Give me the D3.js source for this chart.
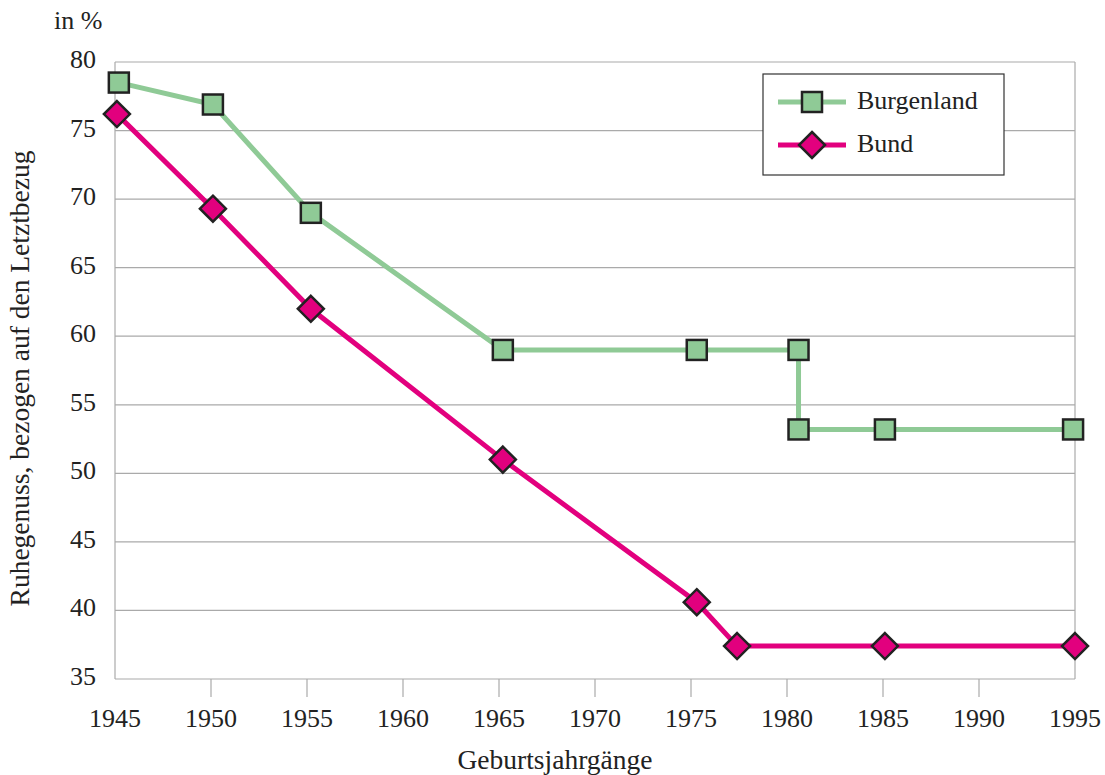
<!DOCTYPE html>
<html>
<head>
<meta charset="utf-8">
<script src="https://cdn.jsdelivr.net/npm/d3@7"></script>
<style>
  body { margin: 0; background: #fff; }
  text { font-family: "Liberation Serif", "DejaVu Serif", serif; fill: #222; }
</style>
</head>
<body>
<div id="chart"></div>
<script>
// Data
const burgenlandYears = [1945.2, 1950.1, 1955.2, 1965.2, 1975.3, 1980.6, 1980.6, 1985.1, 1994.9]
const burgenlandValues = [78.5, 76.9, 69.0, 59.0, 59.0, 59.0, 53.2, 53.2, 53.2]
const bundYears = [1945.1, 1950.1, 1955.2, 1965.2, 1975.3, 1977.4, 1985.1, 1995]
const bundValues = [76.2, 69.3, 62.0, 51.0, 40.6, 37.4, 37.4, 37.4]
const xTicks = [1945, 1950, 1955, 1960, 1965, 1970, 1975, 1980, 1985, 1990, 1995]
const yTicks = [35, 40, 45, 50, 55, 60, 65, 70, 75, 80]

const width = 1105
const height = 775
const margin = { top: 62, right: 30, bottom: 96, left: 115 }
const fontSize = '26px'
const titleSize = '27.5px'

const svg = d3.select('#chart').append('svg').attr('width', width).attr('height', height)

const x = d3.scaleLinear().domain([1945, 1995]).range([margin.left, width - margin.right])
const y = d3.scaleLinear().domain([35, 80]).range([height - margin.bottom, margin.top])

const green = '#8fca96'
const pink = '#e2007e'
const gridColor = '#aaaaaa'

// Horizontal gridlines
svg.append('g')
  .selectAll('line')
  .data(yTicks)
  .join('line')
  .attr('x1', x(1945))
  .attr('x2', x(1995))
  .attr('y1', d => y(d))
  .attr('y2', d => y(d))
  .attr('stroke', gridColor)
  .attr('stroke-width', 1.2)

// Left and right frame lines
svg.append('line')
  .attr('x1', x(1945)).attr('x2', x(1945))
  .attr('y1', y(80)).attr('y2', y(35))
  .attr('stroke', gridColor).attr('stroke-width', 1.2)
svg.append('line')
  .attr('x1', x(1995)).attr('x2', x(1995))
  .attr('y1', y(80)).attr('y2', y(35))
  .attr('stroke', gridColor).attr('stroke-width', 1.2)

// X ticks (inner ones only) and labels
svg.append('g')
  .selectAll('line')
  .data(xTicks.slice(1, -1))
  .join('line')
  .attr('x1', d => x(d))
  .attr('x2', d => x(d))
  .attr('y1', y(35))
  .attr('y2', y(35) + 18)
  .attr('stroke', gridColor)
  .attr('stroke-width', 1.2)

svg.append('g')
  .selectAll('text')
  .data(xTicks)
  .join('text')
  .attr('x', d => x(d))
  .attr('y', y(35) + 48)
  .attr('text-anchor', 'middle')
  .attr('font-size', fontSize)
  .text(d => d)

// Y labels
svg.append('g')
  .selectAll('text')
  .data(yTicks)
  .join('text')
  .attr('x', 96)
  .attr('y', d => y(d) + 6)
  .attr('text-anchor', 'end')
  .attr('font-size', fontSize)
  .text(d => d)

// Axis titles
svg.append('text')
  .attr('x', 54)
  .attr('y', 29)
  .attr('font-size', fontSize)
  .text('in %')

svg.append('text')
  .attr('transform', `translate(29, ${(y(35) + y(80)) / 2 + 8}) rotate(-90)`)
  .attr('text-anchor', 'middle')
  .attr('font-size', titleSize)
  .text('Ruhegenuss, bezogen auf den Letztbezug')

svg.append('text')
  .attr('x', 555)
  .attr('y', 769)
  .attr('text-anchor', 'middle')
  .attr('font-size', titleSize)
  .text('Geburtsjahrgänge')

// Lines
const line = d3.line().x(d => x(d[0])).y(d => y(d[1]))
const burgenland = burgenlandYears.map((d, i) => [d, burgenlandValues[i]])
const bund = bundYears.map((d, i) => [d, bundValues[i]])

svg.append('path')
  .datum(burgenland)
  .attr('d', line)
  .attr('fill', 'none')
  .attr('stroke', green)
  .attr('stroke-width', 5)

svg.append('path')
  .datum(bund)
  .attr('d', line)
  .attr('fill', 'none')
  .attr('stroke', pink)
  .attr('stroke-width', 5)

const sq = 20
const dia = 13

function square(g, cx, cy) {
  g.append('rect')
    .attr('x', cx - sq / 2)
    .attr('y', cy - sq / 2)
    .attr('width', sq)
    .attr('height', sq)
    .attr('fill', green)
    .attr('stroke', '#222')
    .attr('stroke-width', 2.5)
}

function diamond(g, cx, cy) {
  g.append('polygon')
    .attr('points', `${cx},${cy - dia} ${cx + dia},${cy} ${cx},${cy + dia} ${cx - dia},${cy}`)
    .attr('fill', pink)
    .attr('stroke', '#222')
    .attr('stroke-width', 2.5)
}

const markers = svg.append('g')
burgenland.forEach(d => square(markers, x(d[0]), y(d[1])))
bund.forEach(d => diamond(markers, x(d[0]), y(d[1])))

// Legend
const legend = svg.append('g')
legend.append('rect')
  .attr('x', 763)
  .attr('y', 74)
  .attr('width', 241)
  .attr('height', 101)
  .attr('fill', '#fff')
  .attr('stroke', '#333')
  .attr('stroke-width', 1.2)

const legendItems = [
  { name: 'Burgenland', color: green, draw: square, yPos: 102 },
  { name: 'Bund', color: pink, draw: diamond, yPos: 145 }
]

legendItems.forEach(item => {
  legend.append('line')
    .attr('x1', 778).attr('x2', 846)
    .attr('y1', item.yPos).attr('y2', item.yPos)
    .attr('stroke', item.color)
    .attr('stroke-width', 5)
  item.draw(legend, 812, item.yPos)
  legend.append('text')
    .attr('x', 857)
    .attr('y', item.yPos + 7)
    .attr('font-size', fontSize)
    .text(item.name)
})
</script>
</body>
</html>
